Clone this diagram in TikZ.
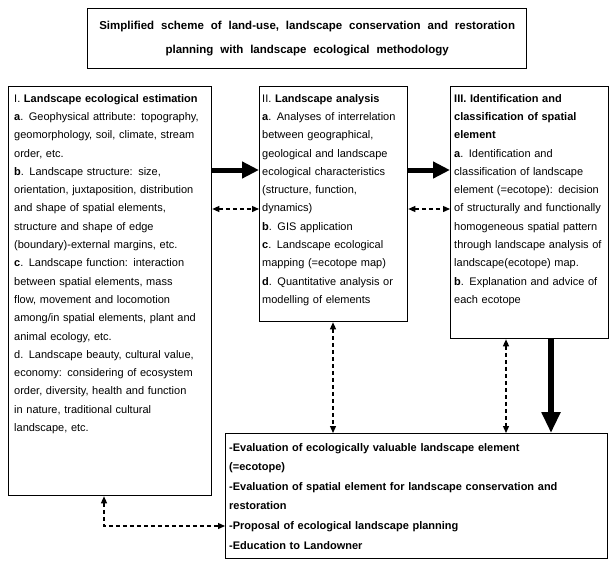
\documentclass[tikz,border=0pt]{standalone}
\usepackage{fontspec}
\setmainfont{Liberation Sans}
\usetikzlibrary{arrows.meta}
\newcommand\jl[1]{\makebox[\hsize][s]{#1}}
\tikzset{
  frame/.style={draw, line width=1.3pt, inner sep=0pt, anchor=north west},
  txt/.style={anchor=north west, inner sep=0pt, align=left,
    font={\fontsize{11}{18.3}\selectfont\spaceskip=0.4em plus 0.3em minus 0.1em}},
  bottxt/.style={anchor=north west, inner sep=0pt, align=left,
    font={\fontsize{11}{19.6}\selectfont\bfseries\spaceskip=0.5em plus 0.3em minus 0.1em}},
  thickarrow/.style={line width=5pt, -{Triangle[length=17pt,width=16pt]}},
  thickarrowv/.style={line width=5.5pt, -{Triangle[length=21pt,width=18pt]}},
  dasharrow/.style={line width=1.3pt, dash pattern=on 4pt off 3pt,
    {Triangle[length=7pt,width=6pt]}-{Triangle[length=7pt,width=6pt]}},
}
\begin{document}
\begin{tikzpicture}[x=1pt, y=-1pt]
\useasboundingbox (0,0) rectangle (613,565);

% title
\node[frame, minimum width=439pt, minimum height=60pt, align=center,
  font={\fontsize{11.5}{24.5}\selectfont\bfseries\spaceskip=0.6em plus 0.3em minus 0.1em}]
  (title) at (87,8) {Simplified scheme of land-use, landscape conservation and restoration\\
  planning with landscape ecological methodology};

% box frames
\node[frame, minimum width=203pt, minimum height=409pt] (b1) at (8,86) {};
\node[frame, minimum width=148pt, minimum height=235pt] (b2) at (259,86) {};
\node[frame, minimum width=158pt, minimum height=252pt] (b3) at (450,86) {};
\node[frame, minimum width=382pt, minimum height=125pt] (bot) at (225,433) {};

% box I text
\node[txt, text width=192pt] (t1) at (14,94) {%
\jl{I. \textbf{Landscape ecological estimation}}\\
\jl{\textbf{a}. Geophysical attribute: topography,}\\
\jl{geomorphology, soil, climate, stream}\\
order, etc.\\
\textbf{b}. Landscape structure: size,\\
\jl{orientation, juxtaposition, distribution}\\
and shape of spatial elements,\\
structure and shape of edge\\
(boundary)-external margins, etc.\\
\textbf{c}. Landscape function: interaction\\
between spatial elements, mass\\
flow, movement and locomotion\\
\jl{among/in spatial elements, plant and}\\
animal ecology, etc.\\
\jl{d. Landscape beauty, cultural value,}\\
\jl{economy: considering of ecosystem}\\
\jl{order, diversity, health and function}\\
in nature, traditional cultural\\
landscape, etc.};

% box II text
\node[txt, text width=141pt] (t2) at (262,94) {%
II. \textbf{Landscape analysis}\\
\jl{\textbf{a}. Analyses of interrelation}\\
between geographical,\\
geological and landscape\\
ecological characteristics\\
(structure, function,\\
dynamics)\\
\textbf{b}. GIS application\\
\textbf{c}. Landscape ecological\\
mapping (=ecotope map)\\
\jl{\textbf{d}. Quantitative analysis or}\\
modelling of elements};

% box III text
\node[txt, text width=150pt] (t3) at (454,94) {%
\textbf{III. Identification and}\\
\textbf{classification of spatial}\\
\textbf{element}\\
\textbf{a}. Identification and\\
classification of landscape\\
\jl{element (=ecotope): decision}\\
\jl{of structurally and functionally}\\
homogeneous spatial pattern\\
\jl{through landscape analysis of}\\
landscape(ecotope) map.\\
\jl{\textbf{b}. Explanation and advice of}\\
each ecotope};

% bottom text
\node[bottxt, text width=375pt] (t4) at (229,443) {%
-Evaluation of ecologically valuable landscape element\\
(=ecotope)\\
\jl{-Evaluation of spatial element for landscape conservation and}\\
restoration\\
-Proposal of ecological landscape planning\\
-Education to Landowner};

% helper coordinates
\coordinate (ya) at (0,170);
\coordinate (yd) at (0,209);
\coordinate (xv1) at (333,0);
\coordinate (xv2) at (506,0);
\coordinate (xv3) at (551,0);
\coordinate (xe) at (104,0);
\coordinate (ye) at (0,526);

% connectors
\draw[thickarrow] (b1.east |- ya) -- (b2.west |- ya);
\draw[thickarrow] (b2.east |- ya) -- (b3.west |- ya);
\draw[dasharrow] (b1.east |- yd) -- (b2.west |- yd);
\draw[dasharrow] (b2.east |- yd) -- (b3.west |- yd);
\draw[dasharrow] (b2.south -| xv1) -- (bot.north -| xv1);
\draw[dasharrow] (b3.south -| xv2) -- (bot.north -| xv2);
\draw[thickarrowv] (b3.south -| xv3) -- (bot.north -| xv3);
\draw[dasharrow] (b1.south -| xe) |- (bot.west |- ye);
\end{tikzpicture}
\end{document}
